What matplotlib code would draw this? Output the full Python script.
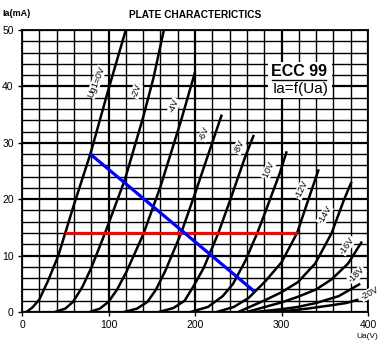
import matplotlib
matplotlib.use("Agg")
import matplotlib.pyplot as plt
from matplotlib.ticker import MultipleLocator
from matplotlib.patches import Rectangle

plt.rcParams['font.family'] = ['Liberation Sans', 'DejaVu Sans']

# Ua [V], Ia [mA]
ua_0v = [5, 12, 20, 30, 42, 50, 60, 79, 100, 120]
ia_0v = [0, 0.8, 2.2, 5.5, 10, 14, 19, 28, 39.5, 50]
ua_2v = [38, 50, 59, 70, 80, 96, 119, 140, 152, 164]
ia_2v = [0, 0.6, 1.8, 4.5, 7.8, 14, 23.5, 34.5, 41.5, 50]
ua_4v = [78, 90, 100, 110, 121, 140, 160, 183, 200]
ia_4v = [0, 0.6, 1.8, 4, 7.2, 13.7, 22.2, 33.5, 42.5]
ua_6v = [118, 133, 145, 155, 166, 184, 200, 221, 231]
ia_6v = [0, 0.6, 1.8, 4, 7.4, 14, 21, 30.5, 35]
ua_8v = [158, 175, 188, 198, 210, 227, 241, 258, 268]
ia_8v = [0, 0.7, 2, 4.5, 7.8, 14, 20, 27.5, 31.4]
ua_10v = [195, 215, 232, 244, 258, 272, 279, 298, 306]
ia_10v = [0, 0.9, 2.8, 5, 9, 14, 16.8, 24.6, 28.5]
ua_12v = [225, 245, 262, 281, 300, 318, 329, 343]
ia_12v = [0, 0.9, 2.5, 5.4, 8.8, 14, 19, 25.3]
ua_14v = [250, 281, 300, 319, 339, 358, 364, 372, 381]
ia_14v = [0, 2.1, 3.5, 5.3, 8.6, 14, 16.5, 19.8, 23.1]
ua_16v = [260, 281, 300, 319, 340, 358, 377, 393]
ia_16v = [0, 0.9, 1.7, 2.7, 4, 5.8, 8.6, 12.5]
ua_18v = [270, 300, 319, 340, 366, 391]
ia_18v = [0, 0.5, 0.9, 1.6, 2.8, 5.0]
ua_20v = [280, 300, 330, 358, 375, 389]
ia_20v = [0, 0.1, 0.6, 1.2, 1.6, 2.2]

etykiety = ["Ug1=0V", "-2V", "-4V", "-6V", "-8V", "-10V",
            "-12V", "-14V", "-16V", "-18V", "-20V"]

# proste robocze
czerwona_ua = [50, 318]
czerwona_ia = [14, 14]
niebieska_ua = [79, 269]
niebieska_ia = [28, 3.6]

krzywe = [(ua_0v, ia_0v), (ua_2v, ia_2v), (ua_4v, ia_4v), (ua_6v, ia_6v),
          (ua_8v, ia_8v), (ua_10v, ia_10v), (ua_12v, ia_12v),
          (ua_14v, ia_14v), (ua_16v, ia_16v), (ua_18v, ia_18v),
          (ua_20v, ia_20v)]

# polozenie i obrot napisow przy krzywych
napisy_xy = [(86, 40.8), (132, 39.2), (176, 36.6), (211, 31.6), (251, 29.3),
             (285, 25.2), (323, 21.7), (350, 17.2), (376, 11.8), (387, 6.6),
             (402, 3.3)]
napisy_kat = [68, 70, 68, 66, 65, 65, 63, 60, 55, 45, 28]

fig = plt.figure(figsize=(3.88, 3.5), dpi=100)
ax = fig.add_axes([22 / 388, 38 / 350, 346 / 388, 282 / 350])

ax.set_xlim(0, 400)
ax.set_ylim(0, 50)

# siatka
for v in range(0, 401, 20):
    ax.axvline(v, color="black", lw=1.6 if v % 100 == 0 else 1.0, zorder=1)
for i in range(0, 51, 2):
    ax.axhline(i, color="black", lw=1.6 if i % 10 == 0 else 1.0, zorder=1)

for (ua, ia) in krzywe:
    ax.plot(ua, ia, color="black", lw=1.8, zorder=4, clip_on=True,
            solid_capstyle="butt", solid_joinstyle="round")

for tekst, (x, y), kat in zip(etykiety, napisy_xy, napisy_kat):
    ax.text(x, y, tekst, rotation=kat, fontsize=6.5, ha="center", va="center",
            zorder=3, clip_on=False, rotation_mode="anchor",
            bbox=dict(facecolor="white", edgecolor="none", pad=0.3))

ax.plot(czerwona_ua, czerwona_ia, color="#ff0000", lw=2.3, zorder=5,
        solid_capstyle="butt")
ax.plot(niebieska_ua, niebieska_ia, color="#0000ff", lw=2.3, zorder=5,
        solid_capstyle="butt")

# ramka z nazwa lampy
ax.add_patch(Rectangle((284, 38.0), 74, 6.4, facecolor="white",
                       edgecolor="none", zorder=3))
ax.text(320.5, 42.6, "ECC 99", fontsize=11.5, fontweight="bold",
        ha="center", va="center", zorder=6)
ax.plot([289, 352], [41.1, 41.1], color="black", lw=1.0, zorder=6)
ax.text(322, 39.5, "Ia=f(Ua)", fontsize=11, ha="center", va="center",
        zorder=6)

ax.xaxis.set_major_locator(MultipleLocator(100))
ax.yaxis.set_major_locator(MultipleLocator(10))
ax.tick_params(axis="both", labelsize=7.5, length=3, width=1, pad=3,
               direction="out", color="black")
for s in ax.spines.values():
    s.set_linewidth(1.3)

fig.text(195 / 388, 1 - 15 / 350, "PLATE CHARACTERICTICS", fontsize=7.3,
         fontweight="bold", ha="center", va="center")
fig.text(2 / 388, 1 - 13 / 350, "Ia(mA)", fontsize=6.5, fontweight="bold",
         ha="left", va="center")
fig.text(367 / 388, 1 - 337 / 350, "Ua(V)", fontsize=6, ha="center",
         va="center")

fig.savefig("out.png", dpi=100)
